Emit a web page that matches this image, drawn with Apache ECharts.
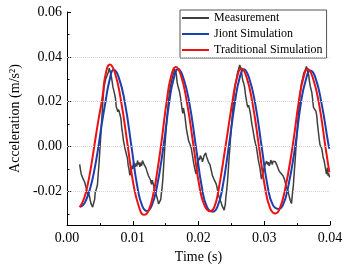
<!DOCTYPE html>
<html>
<head>
<meta charset="utf-8">
<script src="https://cdn.jsdelivr.net/npm/echarts@6/dist/echarts.min.js"></script>
<style>
  html, body { margin: 0; padding: 0; background: #fff; }
  #chart { width: 354px; height: 269px; }
</style>
</head>
<body>
<div id="chart"></div>
<script>
// times in ms, values in m/s2
var measT = [1.92, 2.05, 2.15, 2.3, 2.41, 2.55, 2.7, 2.85, 3.0, 3.15, 3.28, 3.4, 3.52, 3.64, 3.78, 3.89, 4.0, 4.1, 4.2, 4.28, 4.4, 4.5, 4.62, 4.75, 4.87, 5.0, 5.12, 5.24, 5.36, 5.48, 5.6, 5.72, 5.85, 5.97, 6.1, 6.2, 6.32, 6.42, 6.52, 6.64, 6.74, 6.86, 6.98, 7.1, 7.23, 7.36, 7.48, 7.6, 7.73, 7.85, 7.97, 8.08, 8.2, 8.31, 8.45, 8.56, 8.7, 8.82, 8.95, 9.08, 9.2, 9.3, 9.42, 9.55, 9.65, 9.75, 9.9, 10.0, 10.12, 10.23, 10.35, 10.5, 10.6, 10.72, 10.85, 10.95, 11.07, 11.2, 11.35, 11.47, 11.6, 11.75, 11.86, 12.0, 12.1, 12.2, 12.35, 12.45, 12.55, 12.7, 12.84, 12.95, 13.03, 13.15, 13.33, 13.45, 13.55, 13.68, 13.8, 13.92, 14.05, 14.17, 14.26, 14.32, 14.45, 14.57, 14.7, 14.81, 14.94, 15.06, 15.18, 15.3, 15.42, 15.55, 15.67, 15.79, 15.95, 16.05, 16.14, 16.27, 16.38, 16.5, 16.63, 16.75, 16.87, 17.0, 17.1, 17.25, 17.37, 17.48, 17.6, 17.7, 17.8, 17.91, 18.03, 18.15, 18.3, 18.5, 18.65, 18.78, 18.9, 19.02, 19.14, 19.27, 19.39, 19.52, 19.63, 19.75, 19.88, 20.03, 20.15, 20.27, 20.37, 20.5, 20.6, 20.71, 20.85, 20.97, 21.1, 21.22, 21.35, 21.5, 21.62, 21.73, 21.84, 21.97, 22.1, 22.22, 22.34, 22.5, 22.68, 22.8, 22.98, 23.1, 23.2, 23.32, 23.45, 23.55, 23.66, 23.78, 23.9, 23.96, 24.08, 24.16, 24.28, 24.4, 24.52, 24.65, 24.78, 24.9, 25.02, 25.14, 25.26, 25.39, 25.51, 25.63, 25.78, 25.93, 26.05, 26.15, 26.27, 26.4, 26.52, 26.64, 26.76, 26.88, 27.01, 27.13, 27.26, 27.38, 27.5, 27.62, 27.75, 27.88, 28.0, 28.12, 28.24, 28.36, 28.49, 28.65, 28.83, 28.95, 29.08, 29.2, 29.33, 29.45, 29.57, 29.7, 29.86, 30.0, 30.12, 30.24, 30.36, 30.5, 30.62, 30.75, 30.88, 31.0, 31.1, 31.22, 31.33, 31.44, 31.58, 31.7, 31.84, 31.95, 32.08, 32.2, 32.32, 32.43, 32.58, 32.72, 32.85, 32.95, 33.06, 33.2, 33.3, 33.41, 33.55, 33.7, 33.82, 33.95, 34.05, 34.14, 34.22, 34.29, 34.37, 34.44, 34.56, 34.69, 34.81, 34.93, 35.05, 35.18, 35.3, 35.42, 35.55, 35.67, 35.85, 36.01, 36.15, 36.28, 36.41, 36.55, 36.65, 36.75, 36.88, 37.0, 37.12, 37.24, 37.36, 37.49, 37.6, 37.74, 37.85, 37.98, 38.1, 38.23, 38.35, 38.48, 38.6, 38.72, 38.85, 38.97, 39.1, 39.21, 39.33, 39.46, 39.55, 39.62, 39.7, 39.8, 39.93];
var measV = [-0.0079, -0.0105, -0.0122, -0.0128, -0.0142, -0.0138, -0.0160, -0.0178, -0.0195, -0.0217, -0.0205, -0.0200, -0.0238, -0.0254, -0.0248, -0.0270, -0.0262, -0.0272, -0.0235, -0.0205, -0.0195, -0.0188, -0.0170, -0.0120, -0.0072, -0.0010, 0.0044, 0.0105, 0.0160, 0.0215, 0.0258, 0.0280, 0.0298, 0.0300, 0.0318, 0.0312, 0.0335, 0.0350, 0.0338, 0.0330, 0.0312, 0.0290, 0.0265, 0.0270, 0.0235, 0.0215, 0.0178, 0.0185, 0.0155, 0.0165, 0.0168, 0.0140, 0.0122, 0.0085, 0.0058, 0.0030, 0.0030, -0.0010, -0.0025, -0.0040, -0.0055, -0.0085, -0.0100, -0.0128, -0.0135, -0.0110, -0.0085, -0.0100, -0.0070, -0.0078, -0.0090, -0.0075, -0.0088, -0.0062, -0.0080, -0.0070, -0.0090, -0.0072, -0.0085, -0.0062, -0.0070, -0.0082, -0.0075, -0.0095, -0.0105, -0.0110, -0.0128, -0.0120, -0.0140, -0.0150, -0.0168, -0.0150, -0.0145, -0.0170, -0.0195, -0.0200, -0.0212, -0.0218, -0.0240, -0.0256, -0.0250, -0.0262, -0.0235, -0.0215, -0.0185, -0.0145, -0.0085, -0.0030, 0.0025, 0.0073, 0.0118, 0.0160, 0.0200, 0.0233, 0.0260, 0.0277, 0.0300, 0.0310, 0.0322, 0.0330, 0.0345, 0.0335, 0.0320, 0.0285, 0.0270, 0.0262, 0.0245, 0.0220, 0.0197, 0.0170, 0.0148, 0.0172, 0.0165, 0.0140, 0.0110, 0.0080, 0.0055, 0.0025, 0.0020, 0.0005, -0.0008, -0.0030, -0.0050, -0.0075, -0.0094, -0.0110, -0.0122, -0.0095, -0.0070, -0.0050, -0.0060, -0.0040, -0.0036, -0.0055, -0.0068, -0.0062, -0.0040, -0.0048, -0.0028, -0.0045, -0.0055, -0.0068, -0.0060, -0.0080, -0.0094, -0.0110, -0.0128, -0.0135, -0.0145, -0.0150, -0.0166, -0.0180, -0.0210, -0.0222, -0.0228, -0.0240, -0.0250, -0.0262, -0.0270, -0.0265, -0.0283, -0.0282, -0.0255, -0.0224, -0.0195, -0.0159, -0.0110, -0.0050, 0.0000, 0.0051, 0.0095, 0.0139, 0.0185, 0.0226, 0.0258, 0.0284, 0.0305, 0.0328, 0.0335, 0.0350, 0.0364, 0.0350, 0.0340, 0.0310, 0.0291, 0.0282, 0.0265, 0.0235, 0.0211, 0.0190, 0.0175, 0.0185, 0.0180, 0.0150, 0.0124, 0.0100, 0.0080, 0.0060, 0.0037, 0.0015, -0.0007, -0.0030, -0.0057, -0.0075, -0.0094, -0.0120, -0.0145, -0.0130, -0.0108, -0.0094, -0.0080, -0.0072, -0.0065, -0.0080, -0.0070, -0.0086, -0.0075, -0.0060, -0.0065, -0.0080, -0.0065, -0.0072, -0.0060, -0.0068, -0.0072, -0.0085, -0.0094, -0.0105, -0.0100, -0.0116, -0.0115, -0.0123, -0.0130, -0.0128, -0.0145, -0.0160, -0.0175, -0.0181, -0.0195, -0.0210, -0.0225, -0.0239, -0.0245, -0.0254, -0.0230, -0.0210, -0.0190, -0.0166, -0.0115, -0.0065, -0.0010, 0.0037, 0.0090, 0.0139, 0.0185, 0.0226, 0.0258, 0.0284, 0.0305, 0.0328, 0.0335, 0.0345, 0.0357, 0.0345, 0.0330, 0.0320, 0.0290, 0.0269, 0.0255, 0.0240, 0.0210, 0.0175, 0.0178, 0.0168, 0.0158, 0.0139, 0.0100, 0.0066, 0.0035, 0.0008, 0.0005, -0.0007, -0.0028, -0.0050, -0.0062, -0.0079, -0.0100, -0.0123, -0.0110, -0.0094, -0.0130, -0.0120, -0.0137];

var jointT = [2.0, 2.4, 2.9, 3.5, 4.15, 4.77, 5.3, 5.85, 6.45, 7.08, 7.85, 8.8, 9.8, 10.7, 11.45, 12.2, 12.85, 13.6, 14.66, 15.55, 16.2, 16.9, 17.65, 18.6, 19.6, 20.5, 21.3, 22.2, 22.85, 23.6, 24.6, 25.55, 26.2, 26.9, 27.65, 28.6, 29.6, 30.5, 31.3, 32.2, 32.85, 33.6, 34.7, 35.6, 36.3, 37.0, 37.75, 38.7, 39.7, 39.9];
var jointV = [-0.0268, -0.0262, -0.0238, -0.0188, -0.0105, 0.0000, 0.0105, 0.0200, 0.0295, 0.0342, 0.0310, 0.0195, 0.0000, -0.0180, -0.0265, -0.0287, -0.0265, -0.0190, 0.0000, 0.0200, 0.0300, 0.0346, 0.0310, 0.0195, 0.0000, -0.0180, -0.0270, -0.0290, -0.0270, -0.0190, 0.0000, 0.0200, 0.0300, 0.0345, 0.0310, 0.0195, 0.0000, -0.0175, -0.0260, -0.0278, -0.0260, -0.0185, 0.0000, 0.0200, 0.0295, 0.0339, 0.0310, 0.0195, 0.0020, -0.0010];

var tradT = [1.9, 2.4, 2.9, 3.5, 4.13, 4.75, 5.36, 5.85, 6.5, 7.28, 8.22, 9.2, 10.05, 10.92, 11.7, 12.4, 13.2, 13.75, 14.27, 15.15, 15.8, 16.55, 17.3, 18.25, 19.25, 20.15, 20.95, 21.8, 22.4, 23.0, 24.1, 25.15, 25.8, 26.5, 27.25, 28.2, 29.2, 30.1, 30.9, 31.7, 32.3, 33.1, 34.3, 35.25, 35.9, 36.6, 37.35, 38.3, 39.3, 39.9];
var tradV = [-0.0270, -0.0245, -0.0200, -0.0115, 0.0000, 0.0115, 0.0215, 0.0320, 0.0366, 0.0329, 0.0202, 0.0010, -0.0160, -0.0267, -0.0304, -0.0285, -0.0200, -0.0105, 0.0000, 0.0200, 0.0310, 0.0355, 0.0320, 0.0195, 0.0000, -0.0180, -0.0265, -0.0288, -0.0270, -0.0200, 0.0000, 0.0200, 0.0300, 0.0348, 0.0315, 0.0195, 0.0000, -0.0180, -0.0275, -0.0298, -0.0280, -0.0200, 0.0000, 0.0200, 0.0300, 0.0346, 0.0310, 0.0195, 0.0000, -0.0115];

var yLabels = [-0.02, 0, 0.02, 0.04, 0.06];
var yMinor = [-0.03, -0.01, 0.01, 0.03, 0.05];

function pairs(ts, vs) {
  return ts.map(function (t, i) { return [t / 1000, vs[i]]; });
}

var font = "Liberation Serif";
var chart = echarts.init(document.getElementById('chart'));
chart.setOption({
  animation: false,
  backgroundColor: '#fff',
  textStyle: { fontFamily: font, color: '#000' },
  grid: { left: 59, right: 24, top: 12, bottom: 41 },
  legend: {
    orient: 'vertical',
    left: 180,
    top: 10,
    padding: [1, 4, 1, 2],
    itemGap: 2,
    itemWidth: 27,
    itemHeight: 2,
    icon: 'rect',
    borderColor: '#555',
    borderWidth: 1,
    backgroundColor: '#fff',
    textStyle: { fontFamily: font, fontSize: 12, color: '#000', lineHeight: 14 },
    data: ['Measurement', 'Jiont Simulation', 'Traditional Simulation']
  },
  xAxis: {
    type: 'value',
    min: 0,
    max: 0.04,
    interval: 0.01,
    name: 'Time (s)',
    nameLocation: 'middle',
    nameGap: 21,
    nameTextStyle: { fontFamily: font, fontSize: 14, color: '#000' },
    axisLine: { onZero: false, lineStyle: { color: '#000', width: 1 } },
    axisTick: { inside: true, length: 4, lineStyle: { color: '#000' } },
    minorTick: { show: true, splitNumber: 2, length: 2, lineStyle: { color: '#000' } },
    axisLabel: {
      fontFamily: font, fontSize: 14, color: '#000', margin: 6,
      formatter: function (v) { return v.toFixed(2); }
    },
    splitLine: { show: false }
  },
  yAxis: [{
    type: 'value',
    min: -0.035,
    max: 0.06,
    name: 'Acceleration (m/s²)',
    nameLocation: 'middle',
    nameGap: 38,
    nameTextStyle: { fontFamily: font, fontSize: 14, color: '#000' },
    axisLine: { show: true, onZero: false, lineStyle: { color: '#000', width: 1 } },
    axisTick: { show: true, inside: true, length: 4, customValues: yLabels, lineStyle: { color: '#000' } },
    axisLabel: {
      fontFamily: font, fontSize: 14, color: '#000', margin: 5,
      customValues: yLabels,
      formatter: function (v) { return v.toFixed(2); }
    },
    splitLine: { show: false }
  }, {
    type: 'value',
    min: -0.035,
    max: 0.06,
    position: 'left',
    axisLine: { show: false, onZero: false },
    axisTick: { show: true, inside: true, length: 2.5, customValues: yMinor, lineStyle: { color: '#000' } },
    axisLabel: { show: false },
    splitLine: { show: false }
  }],
  series: [{
    name: 'Measurement',
    type: 'line',
    symbol: 'none',
    color: '#3f3f3f',
    lineStyle: { width: 1.5 },
    data: pairs(measT, measV),
    markLine: {
      silent: true,
      symbol: 'none',
      label: { show: false },
      lineStyle: { color: '#d4d4d4', type: 'dotted', width: 1 },
      data: [{ yAxis: -0.02 }, { yAxis: 0 }, { yAxis: 0.02 }, { yAxis: 0.04 }]
    }
  }, {
    name: 'Jiont Simulation',
    type: 'line',
    symbol: 'none',
    smooth: true,
    color: '#1b3fae',
    lineStyle: { width: 2 },
    data: pairs(jointT, jointV)
  }, {
    name: 'Traditional Simulation',
    type: 'line',
    symbol: 'none',
    smooth: true,
    color: '#ee1111',
    lineStyle: { width: 2 },
    data: pairs(tradT, tradV)
  }]
});
</script>
</body>
</html>
